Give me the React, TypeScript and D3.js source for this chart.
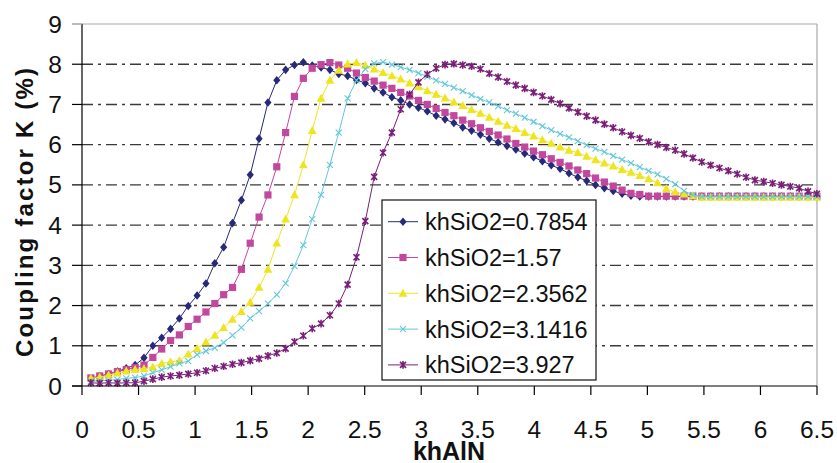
import React from "react";
import * as d3 from "d3";

const X_STEP = 0.0783;
const khAlN: number[] = d3.range(1, 84).map((i) => +(i * X_STEP).toFixed(4));

const seriesNames = ["khSiO2=0.7854", "khSiO2=1.57", "khSiO2=2.3562", "khSiO2=3.1416", "khSiO2=3.927"];

const k0785: number[] = [
  0.18, 0.24, 0.30, 0.36, 0.44, 0.52, 0.70, 1.00, 1.20, 1.42,
  1.68, 1.99, 2.25, 2.55, 3.05, 3.45, 4.05, 4.62, 5.25, 6.15,
  7.05, 7.60, 7.86, 7.98, 8.05, 7.97, 7.92, 7.86, 7.76, 7.71,
  7.61, 7.53, 7.40, 7.30, 7.18, 7.10, 7.00, 6.92, 6.83, 6.72,
  6.63, 6.54, 6.43, 6.35, 6.25, 6.15, 6.06, 5.97, 5.88, 5.78,
  5.69, 5.59, 5.49, 5.40, 5.29, 5.19, 5.10, 5.00, 4.92, 4.85,
  4.78, 4.73, 4.71, 4.71, 4.71, 4.71, 4.71, 4.71, 4.71, 4.71,
  4.71, 4.71, 4.71, 4.71, 4.71, 4.71, 4.71, 4.71, 4.71, 4.71,
  4.71, 4.71, 4.71,
];

const k157: number[] = [
  0.20, 0.25, 0.30, 0.36, 0.41, 0.46, 0.52, 0.71, 0.92, 1.13,
  1.27, 1.48, 1.66, 1.84, 2.05, 2.27, 2.45, 2.90, 3.55, 4.20,
  4.75, 5.45, 6.30, 7.20, 7.65, 7.90, 7.99, 8.04, 7.98, 7.90,
  7.78, 7.67, 7.58, 7.48, 7.40, 7.30, 7.21, 7.10, 7.00, 6.90,
  6.80, 6.72, 6.61, 6.52, 6.42, 6.33, 6.24, 6.14, 6.03, 5.94,
  5.84, 5.75, 5.65, 5.56, 5.47, 5.37, 5.28, 5.17, 5.07, 4.97,
  4.87, 4.79, 4.76, 4.72, 4.72, 4.72, 4.72, 4.72, 4.72, 4.72,
  4.72, 4.72, 4.72, 4.72, 4.72, 4.72, 4.72, 4.72, 4.72, 4.72,
  4.72, 4.72, 4.72,
];

const k23562: number[] = [
  0.19, 0.22, 0.27, 0.32, 0.37, 0.41, 0.43, 0.47, 0.56, 0.60,
  0.63, 0.79, 0.93, 1.09, 1.26, 1.45, 1.66, 1.85, 2.08, 2.45,
  2.90, 3.55, 4.15, 4.75, 5.50, 6.35, 7.15, 7.60, 7.85, 8.00,
  8.04, 7.97, 7.88, 7.79, 7.71, 7.63, 7.53, 7.44, 7.34, 7.25,
  7.16, 7.06, 6.97, 6.87, 6.78, 6.68, 6.58, 6.48, 6.40, 6.30,
  6.21, 6.12, 6.03, 5.94, 5.86, 5.80, 5.71, 5.62, 5.54, 5.47,
  5.38, 5.31, 5.23, 5.15, 5.05, 4.90, 4.82, 4.77, 4.73, 4.69,
  4.69, 4.69, 4.69, 4.69, 4.69, 4.69, 4.69, 4.69, 4.69, 4.69,
  4.69, 4.69, 4.69,
];

const k31416: number[] = [
  0.12, 0.13, 0.14, 0.16, 0.19, 0.21, 0.25, 0.33, 0.40, 0.48,
  0.56, 0.62, 0.78, 0.87, 0.95, 1.08, 1.26, 1.45, 1.68, 1.86,
  2.05, 2.27, 2.55, 2.98, 3.50, 4.15, 4.75, 5.50, 6.30, 7.15,
  7.60, 7.88, 8.02, 8.05, 7.99, 7.93, 7.86, 7.78, 7.69, 7.60,
  7.51, 7.42, 7.33, 7.23, 7.14, 7.05, 6.96, 6.86, 6.77, 6.67,
  6.57, 6.46, 6.36, 6.27, 6.18, 6.09, 5.99, 5.90, 5.82, 5.72,
  5.63, 5.54, 5.44, 5.35, 5.26, 5.15, 5.02, 4.85, 4.75, 4.71,
  4.71, 4.71, 4.71, 4.71, 4.71, 4.71, 4.71, 4.71, 4.71, 4.71,
  4.71, 4.71, 4.71,
];

const k3927: number[] = [
  0.08, 0.07, 0.08, 0.07, 0.08, 0.08, 0.12, 0.17, 0.22, 0.25,
  0.27, 0.30, 0.33, 0.38, 0.44, 0.49, 0.54, 0.58, 0.63, 0.68,
  0.75, 0.82, 0.93, 1.10, 1.25, 1.43, 1.55, 1.76, 2.05, 2.52,
  3.20, 4.10, 5.20, 5.80, 6.30, 6.88, 7.25, 7.55, 7.75, 7.90,
  7.99, 8.01, 7.98, 7.95, 7.88, 7.77, 7.68, 7.57, 7.48, 7.40,
  7.30, 7.21, 7.12, 7.02, 6.91, 6.81, 6.71, 6.61, 6.51, 6.42,
  6.32, 6.23, 6.16, 6.07, 6.00, 5.93, 5.86, 5.77, 5.67, 5.57,
  5.49, 5.42, 5.35, 5.27, 5.19, 5.12, 5.08, 5.04, 5.00, 4.96,
  4.92, 4.84, 4.78,
];

const seriesValues = [k0785, k157, k23562, k31416, k3927];
const seriesColors = ["#262a78", "#c2489e", "#eee51f", "#62c8da", "#7a1f78"];
const seriesMarkers = ["diamond", "square", "triangle", "x", "star"];

const xTicks = [0, 0.5, 1, 1.5, 2, 2.5, 3, 3.5, 4, 4.5, 5, 5.5, 6, 6.5];
const yTicks = [0, 1, 2, 3, 4, 5, 6, 7, 8, 9];

const W = 837;
const H = 463;
const PL = 82, PR = 817, PT = 24, PB = 386;
const FONT = "Arial, 'Liberation Sans', Helvetica, sans-serif";

function Marker({ kind, x, y, color }: { kind: string; x: number; y: number; color: string }) {
  const t = `translate(${x},${y})`;
  if (kind === "diamond")
    return <path transform={t} d="M0,-4.3L3.6,0L0,4.3L-3.6,0Z" fill={color} />;
  if (kind === "square")
    return <rect transform={t} x={-3.6} y={-3.6} width={7.2} height={7.2} fill={color} />;
  if (kind === "triangle")
    return <path transform={t} d="M0,-4.6L4.4,3.4L-4.4,3.4Z" fill={color} />;
  if (kind === "x")
    return <path transform={t} d="M-3,-3L3,3M-3,3L3,-3" stroke={color} strokeWidth={1.1} fill="none" />;
  return (
    <path transform={t} d="M-3,-3L3,3M-3,3L3,-3M0,-3.8L0,3.8" stroke={color} strokeWidth={1.6} fill="none" />
  );
}

export default function App() {
  const x = d3.scaleLinear().domain([0, 6.5]).range([PL, PR]);
  const y = d3.scaleLinear().domain([0, 9]).range([PB, PT]);
  const line = d3
    .line<[number, number]>()
    .x((d) => x(d[0]))
    .y((d) => y(d[1]));

  const legX = 382, legY = 200, legW = 214, legH = 180;
  const legRow0 = 221.7, legStep = 35.8;

  return (
    <svg
      width={W}
      height={H}
      style={{ position: "absolute", left: 0, top: 0, background: "#fff" }}
      fontFamily={FONT}
    >
      <rect x={0} y={0} width={W} height={H} fill="#fff" />
      {/* gridlines */}
      {yTicks
        .filter((v) => v > 0 && v < 9)
        .map((v) => (
          <line
            key={"g" + v}
            x1={PL}
            x2={PR}
            y1={y(v)}
            y2={y(v)}
            stroke="#3a3a3a"
            strokeWidth={1.4}
            strokeDasharray="11,5,3,5"
          />
        ))}
      {/* plot border top/right */}
      <line x1={PL - 10} x2={PR} y1={PT} y2={PT} stroke="#a8a8a8" strokeWidth={1.2} />
      <line x1={PR} x2={PR} y1={PT} y2={PB} stroke="#a8a8a8" strokeWidth={1.2} />

      {/* series */}
      {seriesValues.map((vals, si) => {
        const pts: [number, number][] = vals.map((v, i) => [khAlN[i], v]);
        return (
          <g key={"s" + si}>
            <path d={line(pts) || ""} fill="none" stroke={seriesColors[si]} strokeWidth={1} />
            {pts.map((p, i) => (
              <Marker key={i} kind={seriesMarkers[si]} x={x(p[0])} y={y(p[1])} color={seriesColors[si]} />
            ))}
          </g>
        );
      })}

      {/* axes */}
      <line x1={PL} x2={PL} y1={PT} y2={PB} stroke="#000" strokeWidth={1.2} />
      <line x1={PL - 10} x2={PR} y1={PB} y2={PB} stroke="#000" strokeWidth={1.2} />
      {yTicks.map((v) => (
        <g key={"yt" + v}>
          <line x1={PL - 10} x2={PL} y1={y(v)} y2={y(v)} stroke={v === 9 ? "#a8a8a8" : "#000"} strokeWidth={1.2} />
          <text x={62} y={y(v) + 8.5} textAnchor="end" fontSize={24.5} fill="#111">
            {v}
          </text>
        </g>
      ))}
      {xTicks.map((v) => (
        <g key={"xt" + v}>
          <line x1={x(v)} x2={x(v)} y1={PB} y2={PB + 9} stroke="#000" strokeWidth={1.2} />
          <text x={x(v)} y={438} textAnchor="middle" fontSize={24.5} fill="#111">
            {v}
          </text>
        </g>
      ))}

      {/* axis titles */}
      <text x={449} y={460} textAnchor="middle" fontSize={25} fontWeight="bold" fill="#111">
        khAlN
      </text>
      <text
        transform={`translate(33,212.5) rotate(-90)`}
        textAnchor="middle"
        fontSize={24}
        fontWeight="bold"
        fill="#111"
        textLength={289}
        lengthAdjust="spacing"
      >
        Coupling factor K (%)
      </text>

      {/* legend */}
      <rect x={legX} y={legY} width={legW} height={legH} fill="#fff" stroke="#111" strokeWidth={1.2} />
      {seriesNames.map((name, si) => {
        const cy = legRow0 + si * legStep;
        return (
          <g key={"l" + si}>
            <line x1={388} x2={418} y1={cy} y2={cy} stroke={seriesColors[si]} strokeWidth={1} />
            <Marker kind={seriesMarkers[si]} x={403} y={cy} color={seriesColors[si]} />
            <text x={425} y={cy + 8.5} fontSize={23.5} fill="#111">
              {name}
            </text>
          </g>
        );
      })}
    </svg>
  );
}
